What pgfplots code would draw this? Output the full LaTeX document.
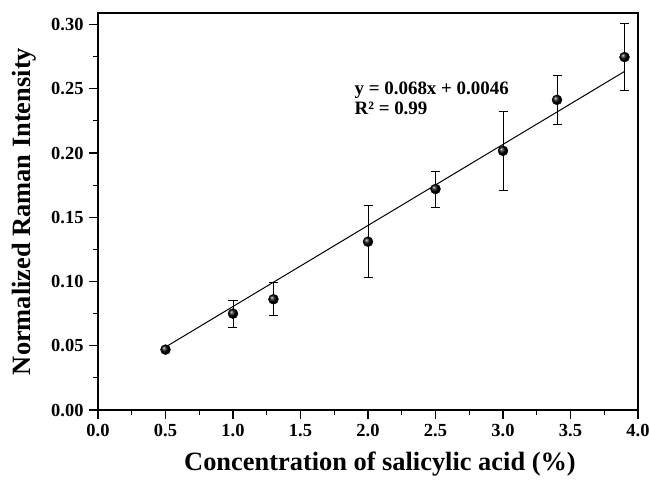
\documentclass[border=0pt]{standalone}
\usepackage{pgfplots}
\pgfplotsset{compat=1.18}
\usepackage{fontspec}
\setmainfont{Liberation Serif}
\begin{document}
\begin{tikzpicture}
\begin{axis}[
  name=ax,
  scale only axis,
  width=540bp, height=397bp,
  xmin=0, xmax=4, ymin=0, ymax=0.309,
  xtick={0,0.5,...,4.0},
  ytick={0,0.05,...,0.30},
  minor x tick num=1, minor y tick num=1,
  tick align=outside,
  xtick pos=bottom, ytick pos=left,
  major tick length=9bp, minor tick length=5bp,
  every tick/.style={black, line width=1.1pt},
  axis line style={line width=1.1pt},
  /pgf/number format/assume math mode=true,
  xticklabel style={yshift=-2bp, /pgf/number format/.cd, fixed, fixed zerofill, precision=1},
  yticklabel style={xshift=-2bp, /pgf/number format/.cd, fixed, fixed zerofill, precision=2},
  ticklabel style={font=\bfseries\fontsize{18.5}{18.5}\selectfont},
  xlabel={Concentration of salicylic acid (\%)},
  ylabel={Normalized Raman Intensity},
  label style={font=\bfseries\fontsize{26.5}{26.5}\selectfont},
  xlabel style={yshift=-8bp, xshift=12bp},
  ylabel style={yshift=8bp},
  clip=false,
]
\addplot[black, line width=1pt] coordinates {(0.5,0.049) (3.9,0.2635)};
\addplot[
  only marks, mark=ball, mark size=5bp, ball color=black,
  error bars/.cd, y dir=both, y explicit,
  error mark options={rotate=90, mark size=4.5bp, line width=1pt, black},
  error bar style={line width=1pt, black},
] coordinates {
  (0.5,0.0470) +- (0,0.0015)
  (1.0,0.0750) +- (0,0.0105)
  (1.3,0.0862) +- (0,0.0130)
  (2.0,0.1310) +- (0,0.0280)
  (2.5,0.1720) +- (0,0.0140)
  (3.0,0.2017) +- (0,0.0305)
  (3.4,0.2414) +- (0,0.0190)
  (3.9,0.2747) +- (0,0.0260)
};
\node[anchor=base west, font=\bfseries\fontsize{19}{19}\selectfont, inner sep=0pt] at (axis cs:1.9,0.2453) {y = 0.068x + 0.0046};
\node[anchor=base west, font=\bfseries\fontsize{19}{19}\selectfont, inner sep=0pt] at (axis cs:1.9,0.2297) {R² = 0.99};
\end{axis}
\pgfresetboundingbox
\path ([xshift=-98bp,yshift=-71bp]ax.south west) rectangle ([xshift=12bp,yshift=13bp]ax.north east);
\end{tikzpicture}
\end{document}
